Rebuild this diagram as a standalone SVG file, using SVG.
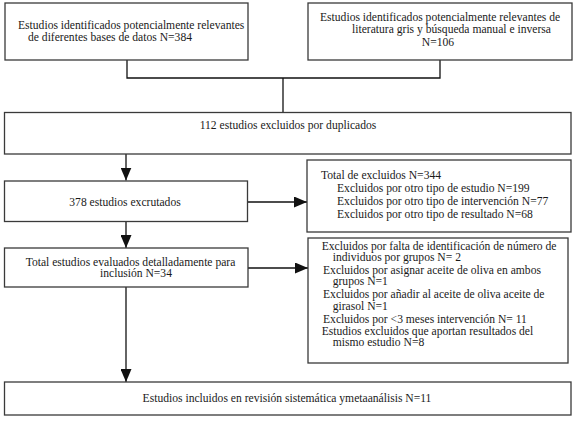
<svg xmlns="http://www.w3.org/2000/svg" width="575" height="422" viewBox="0 0 575 422">
<style>
.box{fill:#fff;stroke:#3a3a3a;stroke-width:1.3}
.ln{fill:none;stroke:#111;stroke-width:1.3}
text{font-family:"Liberation Serif","Times New Roman",serif;font-size:11.6px;fill:#1a1a1a}
.c{text-anchor:middle}
</style>
<defs>
<marker id="ah" viewBox="0 0 13 11" refX="13" refY="5.5" markerWidth="13" markerHeight="11" markerUnits="userSpaceOnUse" orient="auto">
<path d="M0,0 L13,5.5 L0,11 Z" fill="#111"/>
</marker>
</defs>
<rect width="575" height="422" fill="#fff"/>
<g id="connectors">
<path class="ln" d="M127,60 V78 H440 V60"/>
<path class="ln" d="M283,78 V112.5"/>
<path class="ln" d="M126,154 V180.5" marker-end="url(#ah)"/>
<path class="ln" d="M126,221.5 V248" marker-end="url(#ah)"/>
<path class="ln" d="M126,287 V382" marker-end="url(#ah)"/>
<path class="ln" d="M247.5,202 H307" marker-end="url(#ah)"/>
<path class="ln" d="M248,268 H308" marker-end="url(#ah)"/>
</g>
<g id="n1">
<rect class="box" x="5" y="3" width="243" height="57"/>
<text x="18" y="29">Estudios identificados potencialmente relevantes</text>
<text x="28" y="40.5">de diferentes bases de datos N=384</text>
</g>
<g id="n2">
<rect class="box" x="308" y="3" width="264" height="57"/>
<text x="320" y="21">Estudios identificados potencialmente relevantes de</text>
<text x="352" y="33">literatura gris y búsqueda manual e inversa</text>
<text class="c" x="438" y="46">N=106</text>
</g>
<g id="n3">
<rect class="box" x="4.5" y="112.5" width="566.5" height="41.5"/>
<text class="c" x="288" y="129">112 estudios excluidos por duplicados</text>
</g>
<g id="n4">
<rect class="box" x="4.5" y="181" width="243" height="40.5"/>
<text class="c" x="125" y="206">378 estudios excrutados</text>
</g>
<g id="n5">
<rect class="box" x="307" y="160" width="264" height="72"/>
<text x="321" y="179">Total de excluidos N=344</text>
<text x="337" y="191.5">Excluidos por otro tipo de estudio N=199</text>
<text x="337" y="205">Excluidos por otro tipo de intervención N=77</text>
<text x="337" y="218">Excluidos por otro tipo de resultado N=68</text>
</g>
<g id="n6">
<rect class="box" x="4.5" y="248" width="243.5" height="39"/>
<text class="c" x="130.5" y="265.5">Total estudios evaluados detalladamente para</text>
<text class="c" x="136" y="277">inclusión N=34</text>
</g>
<g id="n7">
<rect class="box" x="308" y="238" width="260" height="125"/>
<text x="321.7" y="249.5">Excluidos por falta de identificación de número de</text>
<text x="332.7" y="261">individuos por grupos N= 2</text>
<text x="323" y="273.7">Excluidos por asignar aceite de oliva en ambos</text>
<text x="332.7" y="285.4">grupos N=1</text>
<text x="323" y="297.7">Excluidos por añadir al aceite de oliva aceite de</text>
<text x="332.7" y="309.7">girasol N=1</text>
<text x="323" y="322.7">Excluidos por &lt;3 meses intervención N= 11</text>
<text x="321.7" y="334.7">Estudios excluidos que aportan resultados del</text>
<text x="332.7" y="346.4">mismo estudio N=8</text>
</g>
<g id="n8">
<rect class="box" x="4.5" y="382" width="566.5" height="33"/>
<text class="c" x="287" y="402">Estudios incluidos en revisión sistemática ymetaanálisis N=11</text>
</g>
</svg>
